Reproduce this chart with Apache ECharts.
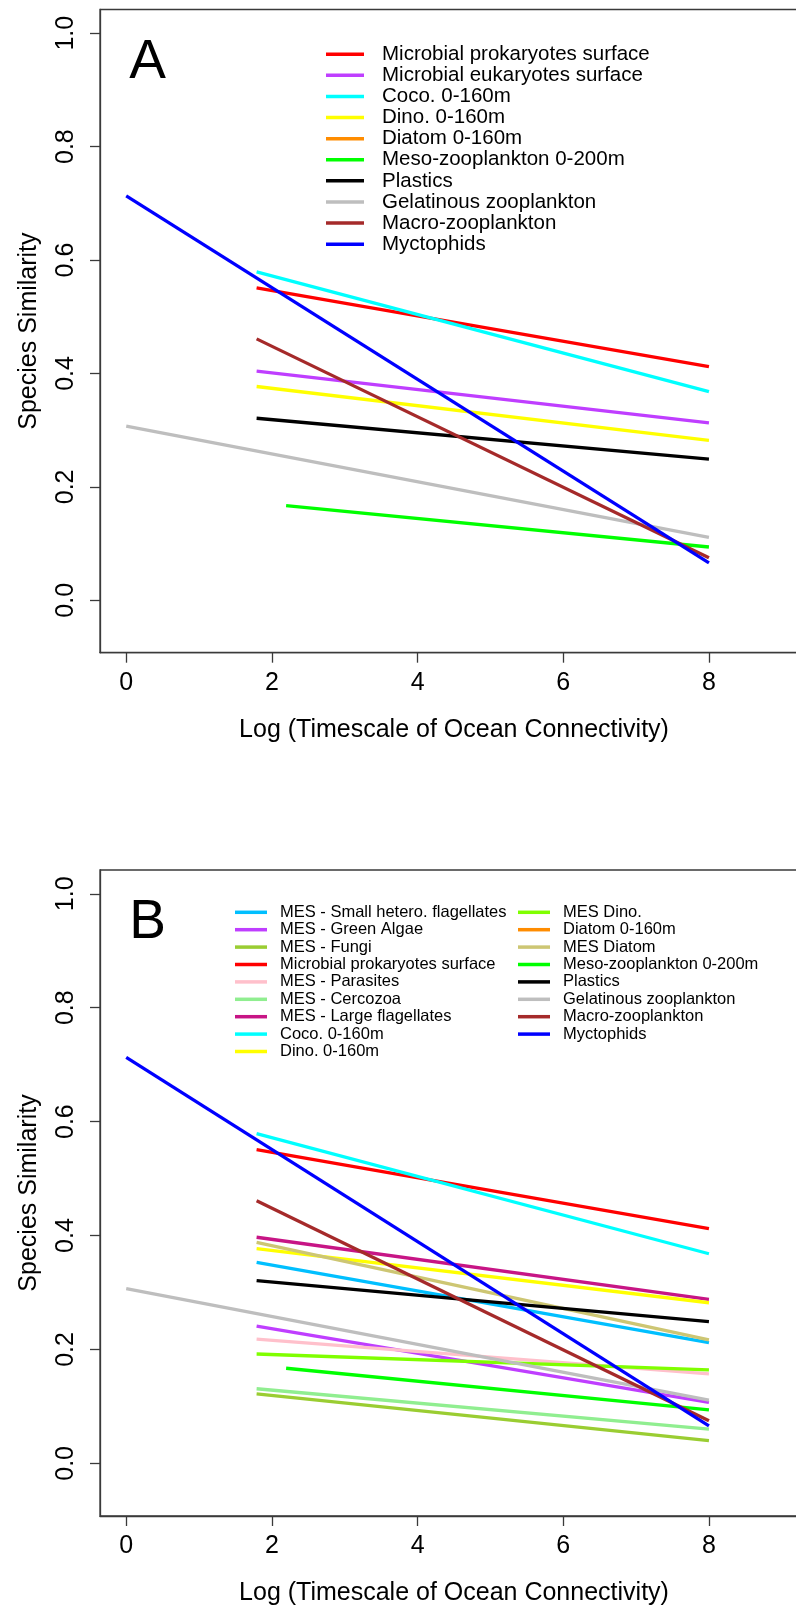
<!DOCTYPE html>
<html>
<head>
<meta charset="utf-8">
<script src="https://cdn.jsdelivr.net/npm/echarts@6/dist/echarts.min.js"></script>
<style>
  html, body { margin: 0; padding: 0; background: #fff; }
  #chart { width: 796px; height: 1608px; }
</style>
</head>
<body>
<div id="chart"></div>
<script>
// ---------------- DATA ----------------
// every fitted line runs from (startX, startY) to (endX, endY)
const seriesNames = [
  'Microbial prokaryotes surface', 'Microbial eukaryotes surface', 'Coco. 0-160m',
  'Dino. 0-160m', 'Diatom 0-160m', 'Meso-zooplankton 0-200m', 'Plastics',
  'Gelatinous zooplankton', 'Macro-zooplankton', 'Myctophids',
  'MES - Small hetero. flagellates', 'MES - Green Algae', 'MES - Fungi',
  'MES - Parasites', 'MES - Cercozoa', 'MES - Large flagellates',
  'MES Dino.', 'MES Diatom'
];
const startX = [1.79, 1.79, 1.79, 1.79, null, 2.195, 1.79, 0, 1.79, 0,
                1.79, 1.79, 1.79, 1.79, 1.79, 1.79, 1.79, 1.79];
const startY = [0.551, 0.404, 0.579, 0.377, null, 0.167, 0.321, 0.307, 0.461, 0.713,
                0.353, 0.241, 0.122, 0.218, 0.131, 0.397, 0.192, 0.388];
const endX   = [8, 8, 8, 8, null, 8, 8, 8, 8, 8,
                8, 8, 8, 8, 8, 8, 8, 8];
const endY   = [0.412, 0.313, 0.368, 0.282, null, 0.094, 0.249, 0.111, 0.075, 0.066,
                0.212, 0.107, 0.040, 0.157, 0.060, 0.288, 0.164, 0.217];

// panel membership (draw / legend order)
const panelA = [
  'Microbial prokaryotes surface', 'Microbial eukaryotes surface', 'Coco. 0-160m',
  'Dino. 0-160m', 'Diatom 0-160m', 'Meso-zooplankton 0-200m', 'Plastics',
  'Gelatinous zooplankton', 'Macro-zooplankton', 'Myctophids'
];
const panelBLeft = [
  'MES - Small hetero. flagellates', 'MES - Green Algae', 'MES - Fungi',
  'Microbial prokaryotes surface', 'MES - Parasites', 'MES - Cercozoa',
  'MES - Large flagellates', 'Coco. 0-160m', 'Dino. 0-160m'
];
const panelBRight = [
  'MES Dino.', 'Diatom 0-160m', 'MES Diatom', 'Meso-zooplankton 0-200m', 'Plastics',
  'Gelatinous zooplankton', 'Macro-zooplankton', 'Myctophids'
];

const xTicks = [0, 2, 4, 6, 8];
const yTicks = [0, 0.2, 0.4, 0.6, 0.8, 1.0];
const panelLetters = ['A', 'B'];
const xTitle = 'Log (Timescale of Ocean Connectivity)';
const yTitle = 'Species Similarity';

// ---------------- STYLE ----------------
const colorOf = {
  'Microbial prokaryotes surface': '#FF0000',
  'Microbial eukaryotes surface': '#BF3EFF',
  'Coco. 0-160m': '#00FFFF',
  'Dino. 0-160m': '#FFFF00',
  'Diatom 0-160m': '#FF8C00',
  'Meso-zooplankton 0-200m': '#00FF00',
  'Plastics': '#000000',
  'Gelatinous zooplankton': '#BEBEBE',
  'Macro-zooplankton': '#A52A2A',
  'Myctophids': '#0000FF',
  'MES - Small hetero. flagellates': '#00BFFF',
  'MES - Green Algae': '#BF3EFF',
  'MES - Fungi': '#9ACD32',
  'MES - Parasites': '#FFC0CB',
  'MES - Cercozoa': '#90EE90',
  'MES - Large flagellates': '#C71585',
  'MES Dino.': '#7FFF00',
  'MES Diatom': '#CDC673'
};
const FONT = '"Liberation Sans", Arial, sans-serif';
const AXC = '#3a3a3a';
const YMIN = -0.0924, YMAX = 1.0418;

function lineData(name) {
  const i = seriesNames.indexOf(name);
  if (startX[i] === null) return [];
  return [[startX[i], startY[i]], [endX[i], endY[i]]];
}

function makeSeries(names, idx) {
  return names.map(n => ({
    name: n,
    type: 'line',
    xAxisIndex: idx, yAxisIndex: idx,
    data: lineData(n),
    showSymbol: false,
    symbol: 'none',
    color: colorOf[n],
    itemStyle: { color: colorOf[n] },
    lineStyle: { color: colorOf[n], width: 3.3 },
    emphasis: { disabled: true },
    silent: true,
    animation: false
  }));
}

const grids = [
  { left: 100, top: 9.5, width: 708, height: 643.2 },
  { left: 100, top: 870, width: 708, height: 646 }
];

function xAxisFor(i) {
  return {
    gridIndex: i, type: 'value', min: -0.36, max: 9.36,
    axisLine: { show: true, onZero: false, lineStyle: { color: AXC, width: 1.3 } },
    axisTick: { show: true, length: 10, customValues: xTicks, lineStyle: { color: AXC, width: 1.3 } },
    axisLabel: { show: true, customValues: xTicks, fontSize: 25, fontFamily: FONT, color: '#000', margin: 18 },
    splitLine: { show: false },
    name: xTitle, nameLocation: 'middle', nameGap: 65,
    nameTextStyle: { fontSize: 25, fontFamily: FONT, color: '#000' }
  };
}
function yAxisFor(i) {
  return {
    gridIndex: i, type: 'value', min: YMIN, max: YMAX,
    axisLine: { show: true, onZero: false, lineStyle: { color: AXC, width: 1.3 } },
    axisTick: { show: true, length: 10, customValues: yTicks, lineStyle: { color: AXC, width: 1.3 } },
    axisLabel: { show: true, customValues: yTicks, rotate: 90, fontSize: 25, fontFamily: FONT,
                 color: '#000', margin: 21, formatter: v => Number(v).toFixed(1) },
    splitLine: { show: false },
    name: yTitle, nameLocation: 'middle', nameGap: 58, nameRotate: 90,
    nameTextStyle: { fontSize: 25, fontFamily: FONT, color: '#000' }
  };
}

function legendFor(names, left, top, itemW, fontSize, pitch, textPad) {
  return {
    data: names, orient: 'vertical', left: left, top: top, padding: 0,
    itemWidth: itemW, itemHeight: 3.5, itemGap: 0, icon: 'rect',
    selectedMode: false,
    textStyle: { fontSize: fontSize, fontFamily: FONT, color: '#000', lineHeight: pitch,
                 height: pitch, padding: [0, 0, 0, textPad] }
  };
}

const chart = echarts.init(document.getElementById('chart'), null, { renderer: 'canvas' });
chart.setOption({
  backgroundColor: '#fff',
  animation: false,
  grid: grids.map(g => Object.assign({ show: true, borderColor: AXC, borderWidth: 1.3,
                                        backgroundColor: 'transparent', containLabel: false,
                                        outerBoundsMode: 'none' }, g)),
  xAxis: [xAxisFor(0), xAxisFor(1)],
  yAxis: [yAxisFor(0), yAxisFor(1)],
  legend: [
    legendFor(panelA, 326, 43.7, 38, 20.5, 21.1, 13),
    legendFor(panelBLeft, 235, 903.6, 32, 16.5, 17.4, 8),
    legendFor(panelBRight, 518, 903.6, 32, 16.5, 17.4, 8)
  ],
  graphic: [
    { type: 'text', x: 147.5, y: 63, silent: true,
      style: { text: panelLetters[0], font: '55px ' + FONT, fill: '#000', align: 'center', verticalAlign: 'middle' } },
    { type: 'text', x: 147.5, y: 922.5, silent: true,
      style: { text: panelLetters[1], font: '55px ' + FONT, fill: '#000', align: 'center', verticalAlign: 'middle' } }
  ],
  series: makeSeries(panelA, 0).concat(makeSeries(panelBLeft.concat(panelBRight), 1))
});
</script>
</body>
</html>
